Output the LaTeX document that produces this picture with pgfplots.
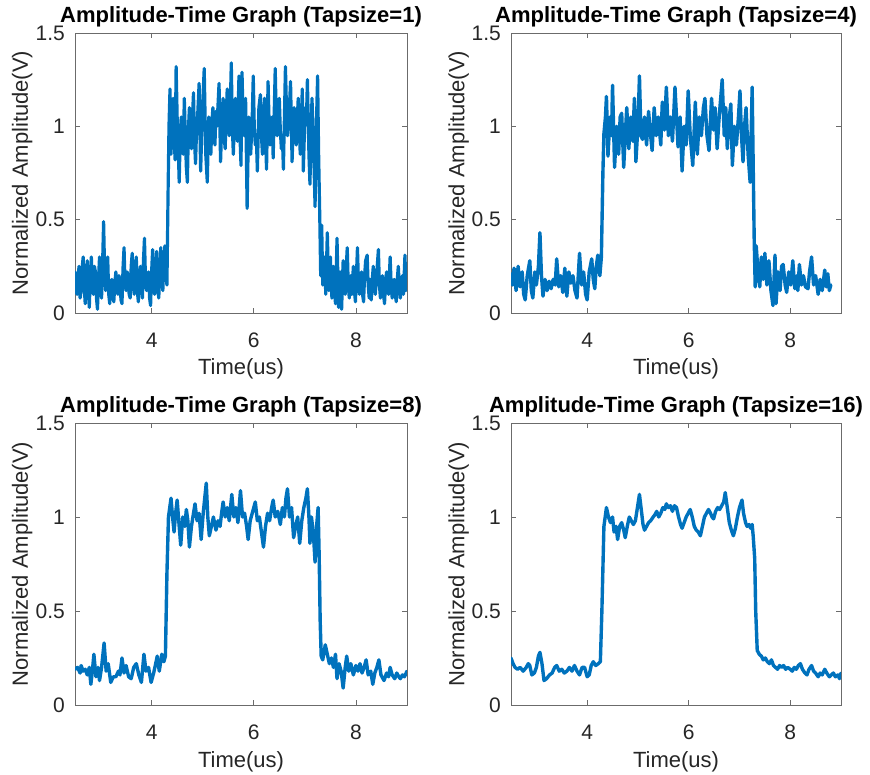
\documentclass[border=0pt]{standalone}
\usepackage{fontspec}
\setmainfont{Liberation Sans}
\usepackage{pgfplots}
\usepackage{pgfplotstable}
\pgfplotsset{compat=1.18}
\definecolor{mblue}{rgb}{0,0.447,0.741}
\definecolor{axgray}{rgb}{0.42,0.42,0.42}
\definecolor{txt}{rgb}{0.15,0.15,0.15}

\pgfplotstableread{
x y
2.50 0.22
2.52 0.12
2.54 0.10
2.56 0.20
2.58 0.25
2.60 0.08
2.62 0.12
2.64 0.24
2.66 0.30
2.68 0.14
2.70 0.05
2.72 0.18
2.74 0.28
2.76 0.12
2.78 0.03
2.80 0.20
2.82 0.30
2.84 0.16
2.86 0.10
2.88 0.25
2.90 0.22
2.92 0.08
2.94 0.02
2.96 0.18
2.98 0.30
3.00 0.12
3.02 0.08
3.04 0.26
3.06 0.49
3.08 0.22
3.10 0.12
3.12 0.24
3.14 0.30
3.16 0.10
3.18 0.05
3.20 0.15
3.22 0.18
3.24 0.09
3.26 0.06
3.28 0.16
3.30 0.22
3.32 0.13
3.34 0.10
3.36 0.20
3.38 0.18
3.40 0.07
3.42 0.05
3.44 0.24
3.46 0.35
3.48 0.16
3.50 0.12
3.52 0.22
3.54 0.20
3.56 0.10
3.58 0.08
3.60 0.25
3.62 0.32
3.64 0.15
3.66 0.10
3.68 0.22
3.70 0.30
3.72 0.12
3.74 0.06
3.76 0.18
3.78 0.25
3.80 0.14
3.82 0.08
3.84 0.28
3.86 0.40
3.88 0.18
3.90 0.12
3.92 0.20
3.94 0.22
3.96 0.08
3.98 0.04
4.00 0.22
4.02 0.34
4.04 0.15
4.06 0.10
4.08 0.25
4.10 0.33
4.12 0.14
4.14 0.08
4.16 0.22
4.18 0.35
4.20 0.18
4.22 0.12
4.24 0.28
4.26 0.36
4.28 0.20
4.30 0.15
4.32 0.60
4.34 1.00
4.36 1.20
4.38 0.85
4.40 1.05
4.42 1.15
4.44 0.95
4.46 0.82
4.48 1.32
4.50 1.05
4.52 0.90
4.54 0.70
4.56 0.95
4.58 1.05
4.60 0.92
4.62 0.85
4.64 1.15
4.66 0.95
4.68 0.78
4.70 0.70
4.72 0.98
4.74 1.10
4.76 0.95
4.78 0.88
4.80 1.05
4.82 1.18
4.84 0.92
4.86 0.80
4.88 0.98
4.90 1.05
4.93 1.23
4.96 0.76
4.98 0.95
5.00 1.12
5.03 1.31
5.06 0.85
5.09 0.70
5.11 0.95
5.12 1.05
5.14 0.92
5.16 0.85
5.18 1.02
5.20 1.10
5.22 0.96
5.24 0.90
5.26 1.08
5.28 1.00
5.32 1.23
5.35 0.81
5.37 0.98
5.40 1.15
5.42 0.95
5.44 0.88
5.46 1.05
5.48 1.20
5.50 1.00
5.52 0.95
5.54 1.10
5.56 1.34
5.58 1.00
5.60 0.85
5.62 1.02
5.64 1.15
5.66 1.00
5.68 0.92
5.71 1.27
5.73 0.95
5.75 0.79
5.77 1.29
5.79 1.05
5.81 0.95
5.84 1.15
5.87 0.56
5.90 1.05
5.92 0.95
5.94 0.85
5.97 1.05
5.99 1.27
6.01 1.00
6.03 0.90
6.05 0.95
6.07 0.76
6.10 1.10
6.13 1.17
6.15 0.95
6.17 0.85
6.19 1.00
6.21 1.15
6.23 0.95
6.25 0.77
6.28 1.24
6.30 1.02
6.32 0.90
6.34 0.98
6.36 1.05
6.38 0.83
6.42 1.31
6.44 1.05
6.46 0.95
6.48 1.05
6.50 1.15
6.52 0.98
6.54 0.88
6.56 0.95
6.58 0.77
6.62 1.32
6.64 1.10
6.66 0.95
6.69 1.05
6.72 1.24
6.75 0.81
6.77 0.98
6.79 1.10
6.81 1.00
6.83 0.90
6.85 1.02
6.87 1.15
6.89 1.00
6.91 0.85
6.93 1.02
6.95 1.20
6.97 0.76
6.99 0.95
7.01 1.10
7.03 1.02
7.05 1.25
7.08 0.85
7.10 0.69
7.12 0.95
7.14 1.15
7.17 0.90
7.20 0.57
7.23 1.05
7.25 1.27
7.27 0.85
7.29 0.55
7.31 0.20
7.33 0.47
7.35 0.15
7.37 0.22
7.38 0.30
7.40 0.18
7.41 0.10
7.44 0.43
7.46 0.20
7.47 0.12
7.49 0.22
7.50 0.30
7.52 0.14
7.53 0.08
7.55 0.18
7.56 0.25
7.58 0.12
7.60 0.05
7.63 0.40
7.65 0.15
7.66 0.03
7.68 0.15
7.69 0.22
7.71 0.08
7.72 0.02
7.74 0.20
7.75 0.28
7.77 0.15
7.79 0.10
7.81 0.24
7.83 0.35
7.85 0.15
7.87 0.08
7.90 0.20
7.92 0.10
7.95 0.25
7.97 0.12
7.99 0.06
8.01 0.20
8.03 0.35
8.05 0.16
8.07 0.10
8.09 0.18
8.11 0.22
8.13 0.10
8.15 0.06
8.17 0.20
8.19 0.28
8.22 0.31
8.24 0.15
8.26 0.08
8.28 0.18
8.30 0.07
8.32 0.18
8.34 0.25
8.36 0.14
8.38 0.10
8.41 0.22
8.44 0.34
8.46 0.15
8.48 0.08
8.50 0.15
8.52 0.20
8.54 0.10
8.56 0.05
8.58 0.16
8.60 0.22
8.62 0.14
8.64 0.10
8.67 0.30
8.69 0.15
8.71 0.08
8.73 0.14
8.75 0.18
8.77 0.10
8.79 0.06
8.81 0.18
8.83 0.25
8.85 0.14
8.87 0.08
8.89 0.15
8.91 0.20
8.93 0.10
8.96 0.31
8.98 0.12
9.00 0.15
}\tapone

\pgfplotstableread{
x y
2.50 0.21
2.53 0.15
2.56 0.24
2.60 0.12
2.64 0.25
2.68 0.14
2.72 0.22
2.75 0.10
2.78 0.07
2.82 0.20
2.87 0.28
2.90 0.12
2.93 0.08
2.97 0.22
3.00 0.15
3.04 0.25
3.07 0.43
3.10 0.20
3.13 0.09
3.17 0.18
3.21 0.12
3.25 0.17
3.29 0.13
3.33 0.18
3.37 0.15
3.40 0.29
3.44 0.14
3.48 0.20
3.52 0.11
3.56 0.24
3.60 0.09
3.64 0.22
3.68 0.16
3.72 0.20
3.76 0.12
3.80 0.08
3.85 0.32
3.89 0.15
3.93 0.22
3.97 0.10
4.00 0.07
4.04 0.22
4.09 0.29
4.12 0.18
4.15 0.13
4.18 0.25
4.21 0.31
4.25 0.20
4.28 0.30
4.31 0.75
4.33 0.96
4.36 1.05
4.38 1.16
4.41 0.84
4.45 1.05
4.48 0.95
4.50 1.22
4.54 0.78
4.58 1.00
4.62 0.85
4.65 1.05
4.68 1.07
4.72 0.78
4.75 0.95
4.78 1.10
4.82 0.88
4.86 1.05
4.90 0.92
4.93 1.15
4.96 0.81
5.00 1.00
5.03 1.27
5.06 0.95
5.09 0.93
5.13 1.05
5.17 0.90
5.21 1.08
5.25 0.95
5.28 0.87
5.32 1.10
5.36 0.95
5.40 1.05
5.45 0.90
5.48 1.13
5.52 0.98
5.56 1.21
5.60 0.95
5.64 1.05
5.68 0.92
5.73 1.21
5.79 0.89
5.83 1.05
5.87 0.76
5.91 1.00
5.95 0.90
5.99 1.19
6.03 0.95
6.08 0.79
6.13 1.13
6.17 0.85
6.21 1.05
6.25 0.95
6.29 1.10
6.32 1.15
6.36 0.95
6.40 0.87
6.45 1.15
6.49 0.98
6.52 1.10
6.56 0.88
6.60 1.05
6.66 1.25
6.70 0.95
6.73 1.10
6.76 0.88
6.80 1.05
6.83 1.12
6.86 0.79
6.90 1.00
6.94 0.90
6.98 1.05
7.01 1.19
7.04 0.95
7.07 0.81
7.10 1.00
7.13 1.10
7.17 0.85
7.21 0.70
7.25 1.21
7.27 0.80
7.29 0.40
7.31 0.14
7.33 0.36
7.37 0.20
7.40 0.14
7.43 0.30
7.47 0.18
7.50 0.32
7.54 0.15
7.58 0.28
7.62 0.12
7.66 0.04
7.70 0.31
7.72 0.05
7.76 0.22
7.80 0.12
7.83 0.25
7.86 0.26
7.90 0.15
7.93 0.11
7.97 0.22
8.01 0.15
8.05 0.28
8.09 0.13
8.13 0.20
8.15 0.12
8.18 0.26
8.22 0.15
8.26 0.20
8.30 0.14
8.35 0.13
8.38 0.22
8.42 0.30
8.46 0.15
8.50 0.20
8.55 0.10
8.59 0.18
8.63 0.12
8.68 0.23
8.71 0.14
8.74 0.21
8.77 0.12
8.80 0.15
}\tapfour

\pgfplotstableread{
x y
2.50 0.19
2.55 0.20
2.60 0.17
2.62 0.21
2.66 0.18
2.70 0.19
2.74 0.16
2.78 0.20
2.81 0.11
2.84 0.18
2.87 0.27
2.91 0.15
2.95 0.20
2.98 0.13
3.02 0.20
3.07 0.33
3.11 0.18
3.15 0.22
3.20 0.12
3.25 0.15
3.30 0.15
3.35 0.18
3.38 0.16
3.42 0.25
3.46 0.17
3.50 0.21
3.55 0.15
3.60 0.14
3.65 0.20
3.70 0.22
3.75 0.16
3.80 0.12
3.85 0.27
3.89 0.18
3.94 0.20
3.99 0.12
4.04 0.17
4.08 0.22
4.11 0.26
4.15 0.18
4.20 0.27
4.24 0.23
4.27 0.26
4.30 0.70
4.33 1.00
4.38 1.10
4.41 1.00
4.44 0.92
4.47 1.02
4.50 1.09
4.54 0.95
4.57 0.85
4.61 1.00
4.65 0.95
4.68 1.04
4.71 0.98
4.74 0.84
4.78 0.95
4.82 1.02
4.85 1.07
4.89 0.98
4.93 1.02
4.97 0.88
5.01 1.02
5.04 1.10
5.07 1.18
5.10 1.00
5.13 0.90
5.17 0.95
5.21 1.00
5.26 0.93
5.30 0.98
5.34 0.95
5.37 1.02
5.40 1.08
5.44 1.00
5.48 1.05
5.52 0.98
5.57 1.12
5.61 1.00
5.65 1.05
5.69 0.97
5.74 1.14
5.78 1.00
5.82 1.02
5.86 0.95
5.89 0.88
5.93 0.98
5.97 1.02
6.03 1.08
6.07 0.98
6.11 1.00
6.15 0.92
6.19 0.84
6.23 0.95
6.27 1.02
6.31 0.98
6.35 1.05
6.38 1.09
6.42 1.00
6.47 1.03
6.52 0.96
6.56 1.05
6.60 1.00
6.63 1.10
6.66 1.15
6.70 1.00
6.74 1.05
6.78 0.89
6.82 0.95
6.86 1.00
6.90 0.86
6.94 0.98
6.98 1.05
7.02 1.10
7.05 1.15
7.08 1.00
7.10 0.86
7.13 1.00
7.17 0.90
7.20 0.76
7.23 0.95
7.26 1.05
7.28 0.80
7.30 0.45
7.32 0.26
7.35 0.24
7.40 0.32
7.44 0.27
7.48 0.22
7.52 0.25
7.56 0.20
7.60 0.27
7.63 0.14
7.67 0.22
7.71 0.18
7.75 0.09
7.79 0.20
7.82 0.26
7.86 0.18
7.90 0.22
7.95 0.16
8.00 0.21
8.04 0.18
8.08 0.22
8.12 0.17
8.16 0.20
8.20 0.24
8.24 0.16
8.29 0.18
8.33 0.11
8.37 0.17
8.41 0.20
8.45 0.24
8.49 0.16
8.55 0.13
8.60 0.17
8.64 0.15
8.67 0.20
8.71 0.16
8.76 0.14
8.80 0.17
8.84 0.15
8.87 0.14
8.91 0.16
8.95 0.15
9.00 0.18
}\tapeight

\pgfplotstableread{
x y
2.50 0.25
2.54 0.22
2.58 0.20
2.63 0.19
2.68 0.20
2.74 0.18
2.80 0.20
2.84 0.22
2.87 0.21
2.91 0.16
2.96 0.17
3.00 0.20
3.04 0.26
3.07 0.28
3.11 0.22
3.15 0.13
3.20 0.14
3.26 0.16
3.31 0.17
3.36 0.20
3.40 0.21
3.45 0.18
3.50 0.19
3.55 0.17
3.60 0.18
3.65 0.20
3.70 0.18
3.75 0.21
3.80 0.18
3.85 0.16
3.90 0.20
3.95 0.20
4.00 0.15
4.04 0.16
4.08 0.21
4.12 0.23
4.17 0.21
4.22 0.22
4.26 0.23
4.29 0.50
4.33 0.95
4.38 1.05
4.42 1.00
4.46 0.97
4.50 1.00
4.53 0.92
4.57 0.95
4.60 0.88
4.64 0.95
4.68 0.97
4.72 0.93
4.75 0.89
4.79 0.95
4.83 1.00
4.87 0.98
4.91 0.96
4.95 0.98
4.99 1.05
5.03 1.12
5.07 1.03
5.10 0.96
5.13 0.93
5.17 0.95
5.21 0.97
5.25 0.98
5.30 1.00
5.33 1.01
5.37 1.03
5.41 1.00
5.45 1.02
5.49 1.05
5.53 1.04
5.56 1.07
5.60 1.05
5.64 1.06
5.68 1.03
5.72 1.06
5.76 1.05
5.80 1.00
5.84 0.96
5.87 0.94
5.91 0.97
5.95 1.00
5.99 1.02
6.03 1.04
6.07 1.00
6.11 0.95
6.15 0.93
6.19 0.92
6.23 0.90
6.27 0.95
6.31 1.00
6.35 1.02
6.39 1.04
6.43 1.02
6.46 1.00
6.49 0.99
6.53 1.03
6.57 1.05
6.61 1.04
6.65 1.06
6.69 1.08
6.72 1.13
6.76 1.05
6.80 0.97
6.84 0.93
6.88 0.90
6.92 0.94
6.96 1.00
7.00 1.05
7.05 1.09
7.08 1.02
7.12 0.97
7.15 0.95
7.19 0.96
7.22 0.94
7.25 0.96
7.27 0.90
7.30 0.78
7.32 0.50
7.35 0.29
7.39 0.27
7.43 0.26
7.47 0.24
7.51 0.25
7.55 0.23
7.59 0.22
7.63 0.24
7.67 0.21
7.71 0.20
7.75 0.19
7.79 0.21
7.83 0.20
7.87 0.21
7.91 0.19
7.95 0.20
8.00 0.19
8.04 0.18
8.08 0.20
8.12 0.19
8.16 0.21
8.20 0.22
8.24 0.19
8.29 0.17
8.33 0.16
8.37 0.19
8.42 0.21
8.46 0.18
8.50 0.17
8.55 0.15
8.59 0.17
8.63 0.16
8.68 0.19
8.72 0.17
8.77 0.15
8.81 0.16
8.85 0.17
8.89 0.15
8.94 0.16
8.97 0.14
9.00 0.17
}\tapsixteen

\pgfplotsset{mat/.style={
  scale only axis, width=332pt, height=280pt,
  xmin=2.5, xmax=9, ymin=0, ymax=1.5,
  xtick={4,6,8}, ytick={0,0.5,1,1.5},
  xticklabels={4,6,8}, yticklabels={0,0.5,1,1.5},
  axis line style={axgray, line width=0.8pt},
  tick style={axgray, line width=0.8pt},
  tick align=inside, major tick length=5pt,
  /pgf/number format/assume math mode=true,
  ticklabel style={font=\fontsize{21}{25}\selectfont, text=txt},
  xticklabel style={anchor=base, inner sep=0pt, yshift=-35pt},
  yticklabel style={anchor=east, inner sep=0pt, xshift=-10pt},
  label style={font=\fontsize{22}{26}\selectfont, text=txt},
  xlabel={Time(us)}, ylabel={Normalized Amplitude(V)},
  xlabel style={at={(axis description cs:0.5,-0.2214)}, anchor=base, inner sep=0pt},
  ylabel style={at={(axis description cs:-0.1416,0.5)}, anchor=base, inner sep=0pt},
  title style={at={(axis description cs:0.5,1)}, anchor=base, yshift=4pt, inner sep=0pt, font=\bfseries\fontsize{22}{26}\selectfont, text=black},
}}

\begin{document}
\begin{tikzpicture}
\useasboundingbox (0pt,0pt) rectangle (870pt,775pt);
\begin{axis}[mat, at={(75pt,462pt)}, anchor=south west, title={Amplitude-Time Graph (Tapsize=1)}]
\addplot[mblue, line width=3.2pt, line join=round, line cap=round, mark=none] table[x=x,y=y] {\tapone};
\end{axis}
\begin{axis}[mat, width=330pt, at={(511pt,462pt)}, anchor=south west, title={Amplitude-Time Graph (Tapsize=4)}]
\addplot[mblue, line width=3.4pt, line join=round, line cap=round, mark=none] table[x=x,y=y] {\tapfour};
\end{axis}
\begin{axis}[mat, height=282pt, at={(75pt,70pt)}, anchor=south west, title={Amplitude-Time Graph (Tapsize=8)}]
\addplot[mblue, line width=3.4pt, line join=round, line cap=round, mark=none] table[x=x,y=y] {\tapeight};
\end{axis}
\begin{axis}[mat, width=330pt, height=282pt, at={(511pt,70pt)}, anchor=south west, title={Amplitude-Time Graph (Tapsize=16)}]
\addplot[mblue, line width=3.4pt, line join=round, line cap=round, mark=none] table[x=x,y=y] {\tapsixteen};
\end{axis}
\end{tikzpicture}
\end{document}
